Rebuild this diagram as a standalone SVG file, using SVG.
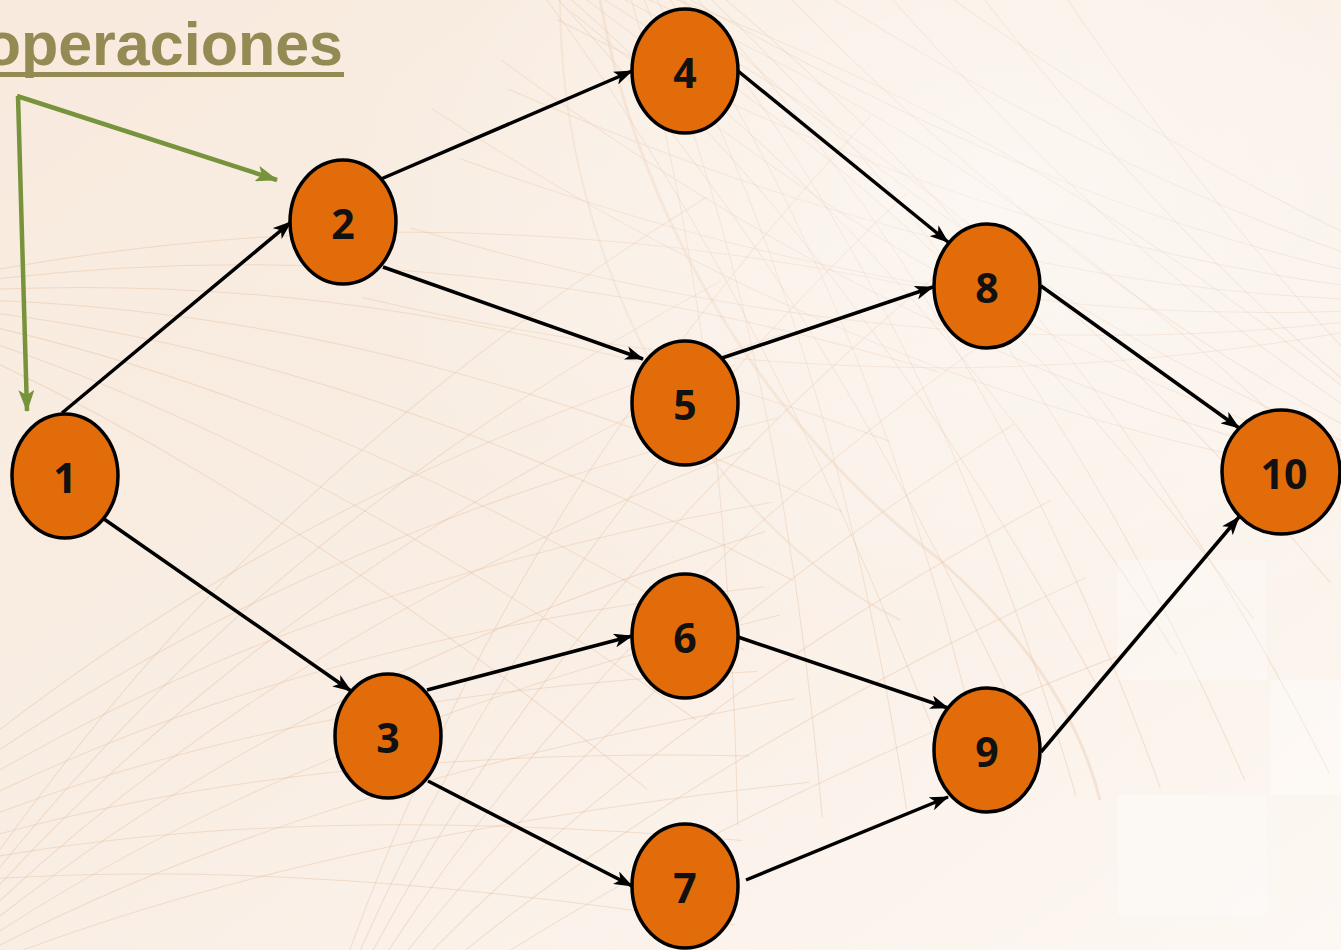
<svg xmlns="http://www.w3.org/2000/svg" xmlns:xlink="http://www.w3.org/1999/xlink" width="1341" height="950" viewBox="0 0 1341 950">
  <style>
    .node ellipse { fill: #E36C0A; stroke: #000; stroke-width: 3.5; }
    .node text { font-family: "Open Sans", "Liberation Sans", sans-serif; font-weight: 700; font-size: 41px; fill: #111; text-anchor: middle; }
    .edge { stroke: #000; stroke-width: 3.5; fill: none; marker-end: url(#arrow); }
    .pointer { stroke: #77933C; stroke-width: 4.5; fill: none; marker-end: url(#arrowGreen); }
    .title { font-family: "Liberation Sans", Arial, sans-serif; font-weight: 700; font-size: 61px; fill: #948A54; }
    .strand { fill: none; stroke: #E2B48E; stroke-width: 1; opacity: 0.35; }
  </style>
  <defs>
    <marker id="arrow" markerUnits="userSpaceOnUse" markerWidth="19" markerHeight="14" refX="18" refY="7" orient="auto">
      <path d="M0,0 L19,7 L0,14 L5,7 Z" fill="#000"/>
    </marker>
    <marker id="arrowGreen" markerUnits="userSpaceOnUse" markerWidth="22" markerHeight="16" refX="21" refY="8" orient="auto">
      <path d="M0,0 L22,8 L0,16 L5,8 Z" fill="#77933C"/>
    </marker>
    <linearGradient id="bg" x1="0" y1="0" x2="1" y2="1">
      <stop offset="0" stop-color="#F8EADD"/>
      <stop offset="0.5" stop-color="#F9EEE4"/>
      <stop offset="1" stop-color="#FDF8F3"/>
    </linearGradient>
    <radialGradient id="glow" cx="0.75" cy="0.2" r="0.5">
      <stop offset="0" stop-color="#FFFFFF" stop-opacity="0.55"/>
      <stop offset="1" stop-color="#FFFFFF" stop-opacity="0"/>
    </radialGradient>
    <g id="fan">
      <path class="strand" d="M0,0 C200,120 420,300 700,620"/>
      <path class="strand" d="M0,0 C220,100 460,260 760,560"/>
      <path class="strand" d="M0,0 C240,80 500,220 820,500"/>
      <path class="strand" d="M0,0 C260,60 540,180 880,440"/>
      <path class="strand" d="M0,0 C280,40 580,140 940,380"/>
      <path class="strand" d="M0,0 C300,20 620,100 1000,320"/>
      <path class="strand" d="M0,0 C320,0 660,60 1060,260"/>
      <path class="strand" d="M0,0 C340,-20 700,20 1120,200"/>
    </g>
  </defs>

  <!-- backdrop -->
  <rect width="1341" height="950" fill="url(#bg)"/>
  <g id="texture">
    <use xlink:href="#fan" transform="translate(-200,900) rotate(-40)"/>
    <use xlink:href="#fan" transform="translate(-100,1000) rotate(-55)"/>
    <use xlink:href="#fan" transform="translate(500,-60) rotate(20)"/>
    <use xlink:href="#fan" transform="translate(600,-100) rotate(40)"/>
    <use xlink:href="#fan" transform="translate(1500,300) rotate(170)"/>
    <use xlink:href="#fan" transform="translate(1500,500) rotate(190)"/>
    <use xlink:href="#fan" transform="translate(-150,300) rotate(-10)"/>
    <use xlink:href="#fan" transform="translate(300,1100) rotate(-70)"/>
    <path d="M600,0 C640,220 760,420 940,560 C1030,640 1080,720 1100,800" fill="none" stroke="#E7C3A2" stroke-width="3" opacity="0.35"/>
    <path d="M560,0 C560,260 700,520 900,620" fill="none" stroke="#E7C3A2" stroke-width="2" opacity="0.3"/>
  </g>
  <rect width="1341" height="950" fill="url(#glow)"/>
  <g id="tiles" fill="#FFFFFF" opacity="0.3">
    <rect x="1117" y="795" width="150" height="120"/>
    <rect x="1117" y="560" width="150" height="120"/>
    <rect x="1270" y="680" width="71" height="115"/>
  </g>

  <!-- heading -->
  <g id="heading">
    <text class="title" x="343" y="65" text-anchor="end">operaciones</text>
    <rect x="0" y="72" width="344" height="5" fill="#948A54"/>
  </g>

  <!-- green pointer arrows -->
  <g id="pointers">
    <path class="pointer" d="M17,96 L277,180"/>
    <path class="pointer" d="M18,96 L27,411"/>
  </g>

  <!-- connectors -->
  <g id="connectors">
    <line class="edge" x1="62" y1="413" x2="291" y2="222"/>
    <line class="edge" x1="104" y1="519" x2="351" y2="691"/>
    <line class="edge" x1="381" y1="179" x2="632" y2="71"/>
    <line class="edge" x1="383" y1="267" x2="643" y2="359"/>
    <line class="edge" x1="738" y1="71" x2="948" y2="242"/>
    <line class="edge" x1="722" y1="358" x2="933" y2="287"/>
    <line class="edge" x1="427" y1="690" x2="632" y2="636"/>
    <line class="edge" x1="428" y1="781" x2="632" y2="886"/>
    <line class="edge" x1="738" y1="637" x2="948" y2="708"/>
    <line class="edge" x1="746" y1="880" x2="948" y2="797"/>
    <line class="edge" x1="1041" y1="286" x2="1239" y2="428"/>
    <line class="edge" x1="1041" y1="752" x2="1239" y2="517"/>
  </g>

  <!-- nodes -->
  <g id="node1" class="node"><ellipse cx="65" cy="476" rx="53" ry="62"/><text x="65" y="493">1</text></g>
  <g id="node2" class="node"><ellipse cx="343" cy="222" rx="53" ry="62"/><text x="343" y="239">2</text></g>
  <g id="node3" class="node"><ellipse cx="388" cy="736" rx="53" ry="62"/><text x="388" y="753">3</text></g>
  <g id="node4" class="node"><ellipse cx="685" cy="71" rx="53" ry="62"/><text x="685" y="88">4</text></g>
  <g id="node5" class="node"><ellipse cx="685" cy="403" rx="53" ry="62"/><text x="685" y="420">5</text></g>
  <g id="node6" class="node"><ellipse cx="685" cy="636" rx="53" ry="62"/><text x="685" y="653">6</text></g>
  <g id="node7" class="node"><ellipse cx="685" cy="886" rx="53" ry="62"/><text x="685" y="903">7</text></g>
  <g id="node8" class="node"><ellipse cx="987" cy="286" rx="53" ry="62"/><text x="987" y="303">8</text></g>
  <g id="node9" class="node"><ellipse cx="987" cy="750" rx="53" ry="62"/><text x="987" y="767">9</text></g>
  <g id="node10" class="node"><ellipse cx="1281" cy="472" rx="59" ry="62"/><text x="1284" y="489">10</text></g>
</svg>
